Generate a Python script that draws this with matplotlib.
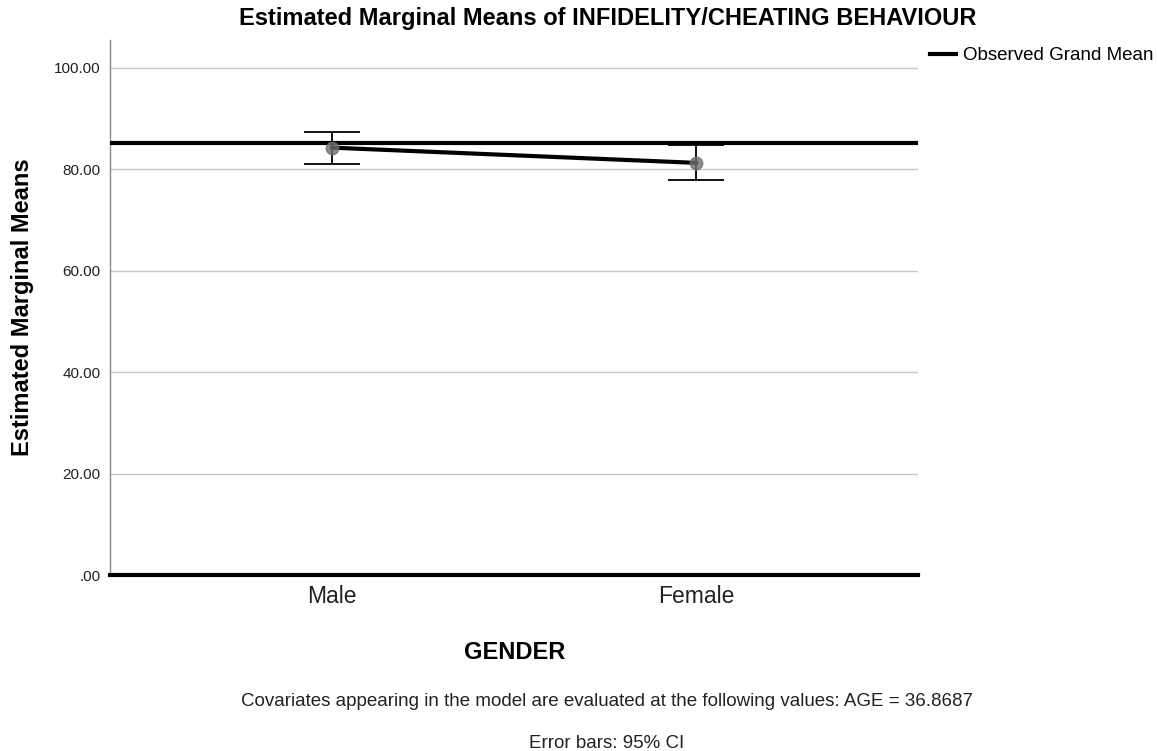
import matplotlib.pyplot as plt

plt.rcParams['font.family'] = ['Liberation Sans', 'DejaVu Sans']

genders = ["Male", "Female"]
means = [84.25, 81.25]
ci_low = [81.1, 77.8]
ci_high = [87.4, 84.7]
grand_mean = 85.15
yticks = [0, 20, 40, 60, 80, 100]
ytick_labels = [".00", "20.00", "40.00", "60.00", "80.00", "100.00"]

fig = plt.figure(figsize=(11.58, 7.51), dpi=100)
ax = fig.add_axes([0.095, 0.234, 0.698, 0.713])

x = list(range(len(genders)))
err = [[m - lo for m, lo in zip(means, ci_low)], [hi - m for m, hi in zip(means, ci_high)]]

ax.axhline(grand_mean, color="black", lw=3.0, zorder=3, label="Observed Grand Mean")
ax.errorbar(x, means, yerr=err, fmt="none", ecolor="black", elinewidth=1.3,
            capsize=20, capthick=1.3, zorder=4)
ax.plot(x, means, color="black", lw=3.0, zorder=5)
ax.plot(x, means, "o", color="#707070", ms=9, alpha=0.8, zorder=6)

ax.set_xlim(-0.61, 1.61)
ax.set_ylim(0, 105.5)
ax.set_yticks(yticks)
ax.set_yticklabels(ytick_labels, fontsize=11, color="#222222")
ax.set_xticks(x)
ax.set_xticklabels(genders, fontsize=16.5, color="#222222")
ax.tick_params(length=0, pad=7)
ax.tick_params(axis="y", pad=7)
ax.grid(axis="y", color="#c8c8c8", lw=1)
ax.set_axisbelow(True)

for s in ["top", "right"]:
    ax.spines[s].set_visible(False)
ax.spines["left"].set_color("#888888")
ax.spines["left"].set_linewidth(1)
ax.spines["bottom"].set_color("black")
ax.spines["bottom"].set_linewidth(3.0)
ax.spines["bottom"].set_zorder(7)

ax.set_ylabel("Estimated Marginal Means", fontsize=17, fontweight="bold", labelpad=14)
ax.set_xlabel("GENDER", fontsize=17, fontweight="bold", labelpad=24)

fig.text(608 / 1158, 1 - 18 / 751, "Estimated Marginal Means of INFIDELITY/CHEATING BEHAVIOUR",
         ha="center", va="center", fontsize=17, fontweight="bold")
fig.text(607 / 1158, 1 - 702 / 751,
         "Covariates appearing in the model are evaluated at the following values: AGE = 36.8687",
         ha="center", va="center", fontsize=13.5, color="#222222")
fig.text(607 / 1158, 1 - 743 / 751, "Error bars: 95% CI",
         ha="center", va="center", fontsize=13.5, color="#222222")

ax.legend(loc="upper left", bbox_to_anchor=(1.005, 1.0), frameon=False, fontsize=13.5,
          handlelength=1.4, handletextpad=0.35, borderaxespad=0.0)

fig.savefig("out.png", dpi=100)
